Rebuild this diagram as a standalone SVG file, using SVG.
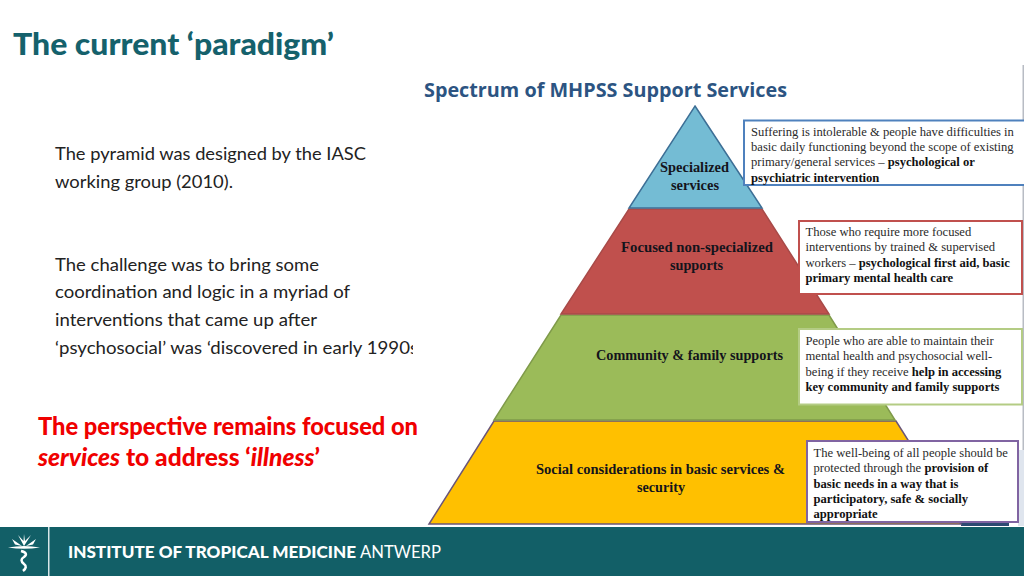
<svg xmlns="http://www.w3.org/2000/svg" width="1024" height="576" viewBox="0 0 1024 576">
<style>
.b{font-family:Lato,"Open Sans",sans-serif;font-size:18px;fill:#222}
.r{font-family:Lato,"Open Sans",sans-serif;font-size:24px;font-weight:900;fill:#f00000}
.p{font-family:"Liberation Serif",serif;font-size:14px;font-weight:700;fill:#14141c}
.t{font-family:"Liberation Serif",serif;font-size:12.6px;fill:#2a2a2a}
.t tspan{font-weight:700;fill:#111}
.box{fill:#fff;stroke-width:2}
.lvl{stroke-width:1.500}
</style>
<defs><clipPath id="c"><rect x="40" y="250" width="373" height="120"/></clipPath></defs>
<rect width="1024" height="576" fill="#fff"/>
<text x="13" y="55" textLength="321" lengthAdjust="spacingAndGlyphs" style="font-family:Lato,'Open Sans',sans-serif;font-size:31px;font-weight:900;fill:#15616c">The current ‘paradigm’</text>
<g id="intro">
<text class="b" x="55" y="160" textLength="311" lengthAdjust="spacingAndGlyphs">The pyramid was designed by the IASC</text>
<text class="b" x="55" y="188" textLength="178" lengthAdjust="spacingAndGlyphs">working group (2010).</text>
</g>
<g id="challenge" clip-path="url(#c)">
<text class="b" x="55" y="271" textLength="264" lengthAdjust="spacingAndGlyphs">The challenge was to bring some</text>
<text class="b" x="55" y="298" textLength="295" lengthAdjust="spacingAndGlyphs">coordination and logic in a myriad of</text>
<text class="b" x="55" y="326" textLength="262" lengthAdjust="spacingAndGlyphs">interventions that came up after</text>
<text class="b" x="55" y="353.500" textLength="363" lengthAdjust="spacingAndGlyphs">‘psychosocial’ was ‘discovered in early 1990s</text>
</g>
<g id="perspective">
<text class="r" x="38" y="434.500" textLength="380" lengthAdjust="spacingAndGlyphs">The perspective remains focused on</text>
<text class="r" x="38" y="465.500" textLength="282" lengthAdjust="spacingAndGlyphs"><tspan font-style="italic">services</tspan> to address ‘<tspan font-style="italic">illness</tspan>’</text>
</g>
<text x="424" y="97" textLength="363" lengthAdjust="spacingAndGlyphs" style="font-family:'Open Sans',sans-serif;font-size:20px;font-weight:700;fill:#2c5482">Spectrum of MHPSS Support Services</text>
<rect x="1022.500" y="65" width="1.500" height="460" fill="#b8bcc4"/>
<rect x="961" y="520" width="48" height="6" fill="#2c4a72"/>
<rect x="1018" y="450" width="6" height="76" fill="#dfe5ee"/>
<g id="level-4"><polygon class="lvl" points="494,421 896,421 961,524 429,524" fill="#ffc000" stroke="#6a5578"/>
<text class="p" x="536" y="474" textLength="249" lengthAdjust="spacingAndGlyphs">Social considerations in basic services &amp;</text><text class="p" x="637" y="492" textLength="48" lengthAdjust="spacingAndGlyphs">security</text></g>
<g id="level-3"><polygon class="lvl" points="561,315 829,315 895,420 494,420" fill="#9bbb59" stroke="#7f9a4a"/>
<text class="p" x="596" y="360" textLength="187" lengthAdjust="spacingAndGlyphs">Community &amp; family supports</text></g>
<g id="level-2"><polygon class="lvl" points="629,209 762,209 829,314 561,314" fill="#c0504d" stroke="#a84a48"/>
<text class="p" x="621" y="252" textLength="152" lengthAdjust="spacingAndGlyphs">Focused non-specialized</text><text class="p" x="670" y="270" textLength="53" lengthAdjust="spacingAndGlyphs">supports</text></g>
<g id="level-1"><polygon class="lvl" points="695,106 762,208 629,208" fill="#74bcd4" stroke="#3d6f96"/>
<text class="p" x="660" y="172" textLength="69" lengthAdjust="spacingAndGlyphs">Specialized</text><text class="p" x="671" y="190" textLength="48" lengthAdjust="spacingAndGlyphs">services</text></g>
<g id="desc-1"><rect class="box" x="744" y="120.500" width="282" height="64.500" stroke="#4f81bd"/>
<text class="t" x="751" y="136">Suffering is intolerable &amp; people have difficulties in</text>
<text class="t" x="751" y="151">basic daily functioning beyond the scope of existing</text>
<text class="t" x="751" y="166">primary/general services – <tspan>psychological or</tspan></text>
<text class="t" x="751" y="182"><tspan>psychiatric intervention</tspan></text></g>
<g id="desc-2"><rect class="box" x="799" y="221" width="223" height="73" stroke="#c0504d"/>
<text class="t" x="805.500" y="236">Those who require more focused</text>
<text class="t" x="805.500" y="251">interventions by trained &amp; supervised</text>
<text class="t" x="805.500" y="267">workers – <tspan>psychological first aid, basic</tspan></text>
<text class="t" x="805.500" y="282"><tspan>primary mental health care</tspan></text></g>
<g id="desc-3"><rect class="box" x="799" y="329" width="223" height="75.500" stroke="#b4cc84"/>
<text class="t" x="805.500" y="345">People who are able to maintain their</text>
<text class="t" x="805.500" y="360">mental health and psychosocial well-</text>
<text class="t" x="805.500" y="376">being if they receive <tspan>help in accessing</tspan></text>
<text class="t" x="805.500" y="391"><tspan>key community and family supports</tspan></text></g>
<g id="desc-4"><rect class="box" x="807" y="441" width="211" height="81" stroke="#8064a2"/>
<text class="t" x="813.500" y="457">The well-being of all people should be</text>
<text class="t" x="813.500" y="472">protected through the <tspan>provision of</tspan></text>
<text class="t" x="813.500" y="488"><tspan>basic needs in a way that is</tspan></text>
<text class="t" x="813.500" y="503"><tspan>participatory, safe &amp; socially</tspan></text>
<text class="t" x="813.500" y="518"><tspan>appropriate</tspan></text></g>
<g id="footer">
<rect x="0" y="527" width="1024" height="49" fill="#125f67"/>
<rect x="48" y="527" width="1.500" height="49" fill="#d8e6e8"/>
<g fill="#fff" stroke="none">
<path d="M8 547.500Q24 544.500 40 547.500Q24 550 8 547.500Z"/>
<path d="M24 546L18 535L23.500 541L24 534L25 541L31 535Z"/>
<path d="M12 539L22 546L15 544.500ZM36 539L26 546L33 544.500Z"/>
</g>
<path d="M21 551Q29 553 24 557Q19 560 24 564Q28 567 23 571" fill="none" stroke="#fff" stroke-width="2.500"/>
<text x="68" y="558" textLength="288" lengthAdjust="spacingAndGlyphs" style="font-family:Lato,'Open Sans',sans-serif;font-size:17px;font-weight:900;fill:#fff">INSTITUTE OF TROPICAL MEDICINE</text>
<text x="360" y="558" textLength="81" lengthAdjust="spacingAndGlyphs" style="font-family:Lato,'Open Sans',sans-serif;font-size:17px;font-weight:400;fill:#fff">ANTWERP</text>
</g>
</svg>
